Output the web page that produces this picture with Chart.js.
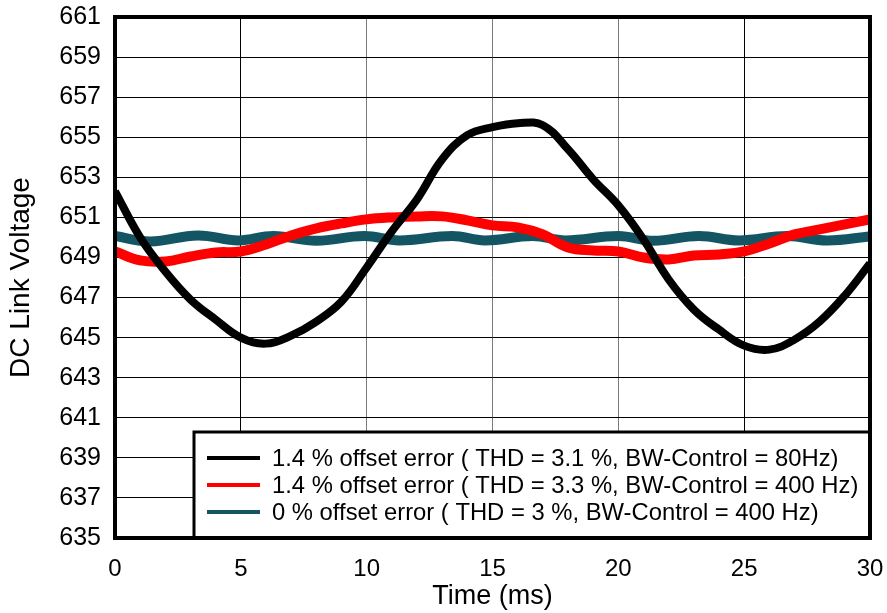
<!DOCTYPE html>
<html>
<head>
<meta charset="utf-8">
<title>DC Link Voltage</title>
<script src="https://cdn.jsdelivr.net/npm/chart.js@4.4.1/dist/chart.umd.min.js"></script>
<style>
  body { margin: 0; background: #fff; }
  #wrap { width: 887px; height: 613px; }
</style>
</head>
<body>
<div id="wrap"><canvas id="dcLinkChart" width="887" height="613"></canvas></div>
<script>
// ===============================
// data
// ===============================
const timeMs = [0, 1, 2, 3, 4, 5, 6, 7, 8, 9, 10, 11, 12, 13, 14, 15, 16, 17, 18, 19, 20, 21, 22, 23, 24, 25, 26, 27, 28, 29, 30];

// 1.4 % offset, BW 80 Hz
const vOffset80 = [652.3, 650.0, 648.3, 646.9, 645.9, 645.0, 644.7, 645.1, 645.8, 646.8, 648.5, 650.3, 651.9, 653.9, 655.1, 655.5, 655.7, 655.6, 654.4, 652.9, 651.6, 649.9, 647.9, 646.4, 645.4, 644.6, 644.4, 644.9, 645.8, 647.1, 648.7];

// 1.4 % offset, BW 400 Hz
const vOffset400 = [649.3, 648.85, 648.8, 649.05, 649.25, 649.3, 649.65, 650.1, 650.45, 650.7, 650.9, 651.0, 651.05, 651.05, 650.85, 650.6, 650.5, 650.15, 649.5, 649.35, 649.3, 649.0, 648.9, 649.1, 649.15, 649.3, 649.7, 650.15, 650.4, 650.65, 650.9];

// 0 % offset, BW 400 Hz (ripple, own time points)
const timeNoOffset = [0, 1.4, 3.3, 4.9, 6.3, 8.0, 9.9, 11.3, 13.4, 14.7, 16.6, 17.9, 20.0, 21.4, 23.2, 24.8, 26.7, 28.3, 30];
const vNoOffset = [650.07, 649.8, 650.1, 649.85, 650.07, 649.83, 650.07, 649.85, 650.07, 649.85, 650.07, 649.85, 650.07, 649.83, 650.07, 649.85, 650.07, 649.85, 650.05];

const seriesLabels = [
  "1.4 % offset error ( THD = 3.1 %, BW-Control = 80Hz)",
  "1.4 % offset error ( THD = 3.3 %, BW-Control = 400 Hz)",
  "0 % offset error ( THD = 3 %, BW-Control = 400 Hz)",
];
const seriesColors = ["#000000", "#ff0000", "#145564"];

const yMin = 635, yMax = 661, yStep = 2;
const xMin = 0, xMax = 30, xStep = 5;

const FONT = '"Liberation Sans", Arial, sans-serif';

function toPoints(xs, ys) {
  return xs.map((x, i) => ({ x: x, y: ys[i] }));
}

// ===============================
// legend box + frame
// ===============================
const boxLegend = {
  id: "boxLegend",
  afterDatasetsDraw(chart) {
    const ctx = chart.ctx;
    const area = chart.chartArea;
    const left = 194, top = 432, right = area.right, bottom = area.bottom;
    ctx.save();
    ctx.fillStyle = "#fff";
    ctx.fillRect(left, top, right - left, bottom - top);
    ctx.lineWidth = 3;
    ctx.strokeStyle = "#000";
    ctx.strokeRect(left, top, right - left, bottom - top);

    ctx.font = "23.8px " + FONT;
    ctx.textBaseline = "middle";
    ctx.textAlign = "left";
    chart.data.datasets.forEach((ds, i) => {
      const y = 458 + i * 27;
      ctx.strokeStyle = ds.borderColor;
      ctx.lineWidth = 4;
      ctx.beginPath();
      ctx.moveTo(207, y);
      ctx.lineTo(260, y);
      ctx.stroke();
      ctx.fillStyle = "#000";
      ctx.fillText(ds.label, 272, y + 1);
    });
    ctx.restore();
  },
  afterDraw(chart) {
    const ctx = chart.ctx;
    const a = chart.chartArea;
    ctx.save();
    ctx.lineWidth = 4;
    ctx.strokeStyle = "#000";
    ctx.strokeRect(a.left, a.top, a.right - a.left, a.bottom - a.top);
    ctx.restore();
  },
};

new Chart(document.getElementById("dcLinkChart"), {
  type: "line",
  data: {
    datasets: [
      {
        label: seriesLabels[0],
        data: toPoints(timeMs, vOffset80),
        borderColor: seriesColors[0],
        borderWidth: 8,
      },
      {
        label: seriesLabels[1],
        data: toPoints(timeMs, vOffset400),
        borderColor: seriesColors[1],
        borderWidth: 10,
      },
      {
        label: seriesLabels[2],
        data: toPoints(timeNoOffset, vNoOffset),
        borderColor: seriesColors[2],
        borderWidth: 10,
      },
    ],
  },
  options: {
    responsive: false,
    animation: false,
    layout: { padding: { top: 17, right: 17, left: 0, bottom: 0 } },
    elements: {
      point: { radius: 0 },
      line: { tension: 0.4, fill: false, borderCapStyle: "butt" },
    },
    plugins: {
      legend: { display: false },
      tooltip: { enabled: false },
    },
    scales: {
      x: {
        type: "linear",
        min: xMin,
        max: xMax,
        afterFit: (s) => {
          s.height = 75;
          s.paddingLeft = 0;
          s.paddingRight = 0;
        },
        border: { display: false },
        grid: {
          drawTicks: false,
          lineWidth: 1,
          color: (c) => ([10, 15, 20].includes(c.tick && c.tick.value) ? "#7a7a7a" : "#000"),
        },
        ticks: {
          stepSize: xStep,
          padding: 17,
          color: "#000",
          font: { family: FONT, size: 24 },
          maxRotation: 0,
        },
        title: {
          display: true,
          text: "Time (ms)",
          color: "#000",
          font: { family: FONT, size: 27 },
          padding: { top: 0, bottom: 0 },
        },
      },
      y: {
        min: yMin,
        max: yMax,
        afterFit: (s) => {
          s.width = 115;
          s.paddingTop = 0;
          s.paddingBottom = 0;
        },
        border: { display: false },
        grid: { drawTicks: false, color: "#000", lineWidth: 1 },
        ticks: {
          stepSize: yStep,
          padding: 14,
          color: "#000",
          font: { family: FONT, size: 25 },
        },
        title: {
          display: true,
          text: "DC Link Voltage",
          color: "#000",
          font: { family: FONT, size: 28 },
          padding: { top: 4, bottom: 0 },
        },
      },
    },
  },
  plugins: [boxLegend],
});
</script>
</body>
</html>
